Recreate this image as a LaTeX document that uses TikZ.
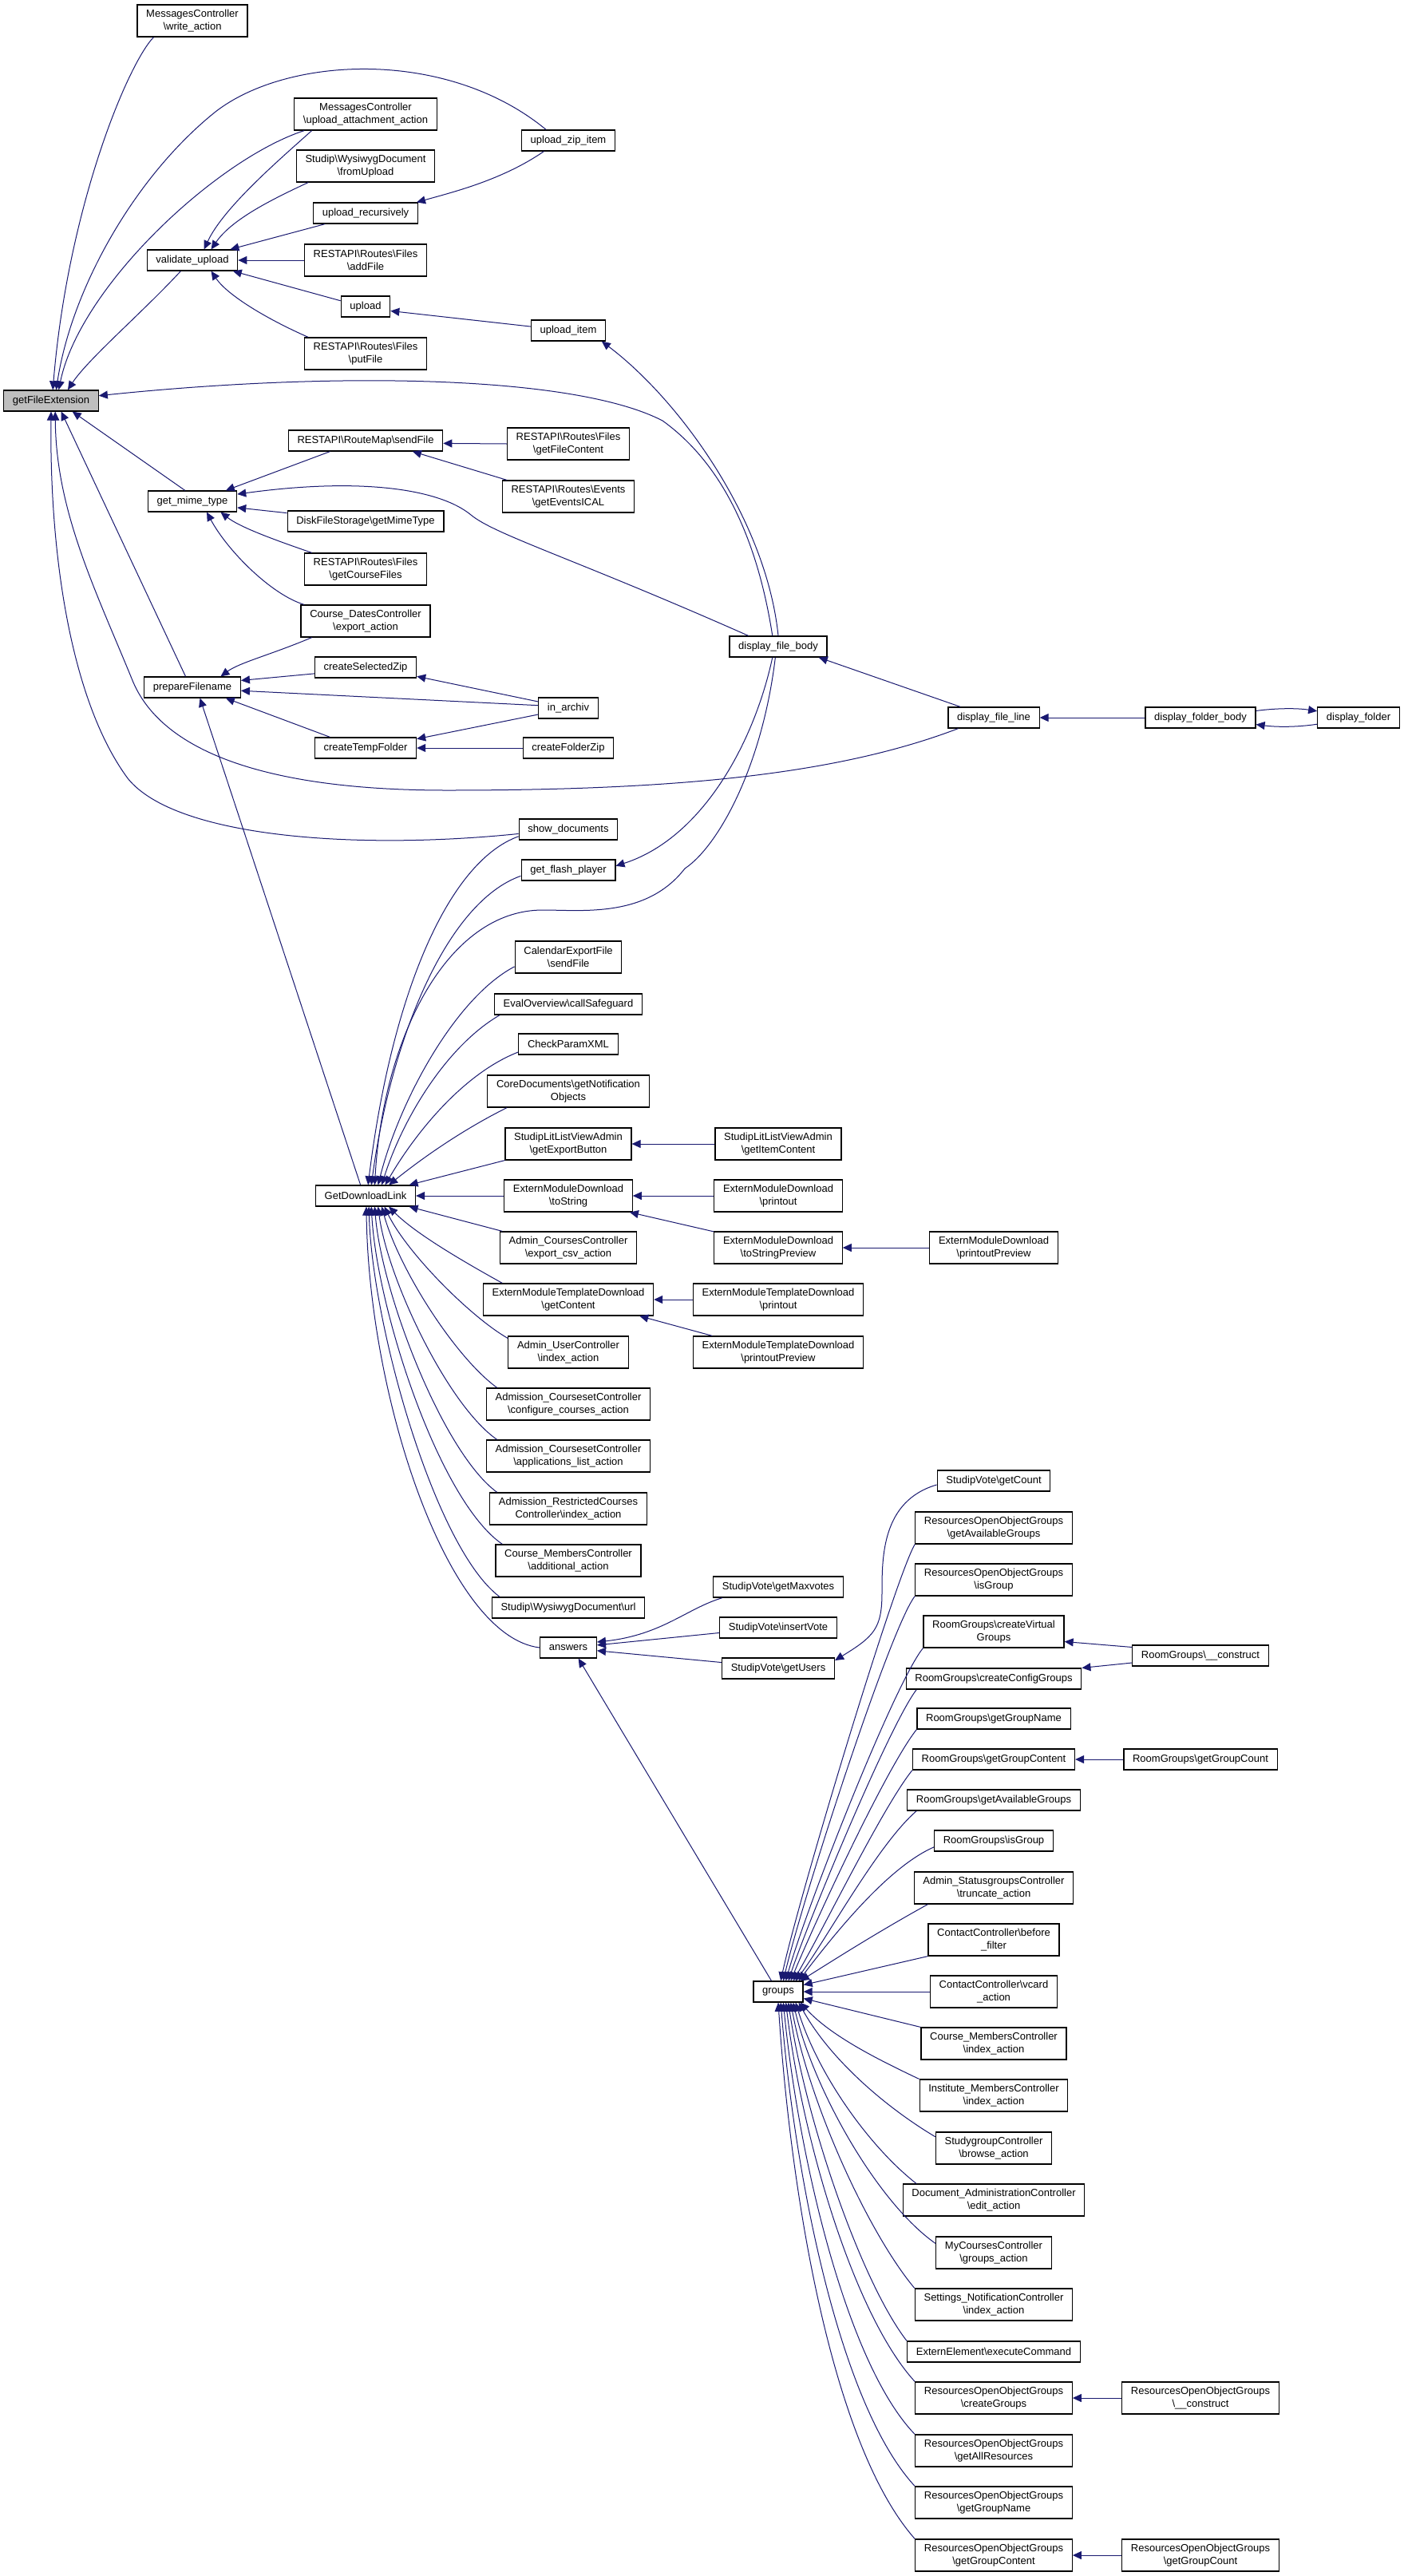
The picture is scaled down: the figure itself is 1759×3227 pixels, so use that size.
\documentclass[tikz,border=0pt]{standalone}
\usepackage{fontspec}
\setmainfont{Liberation Sans}
\usepackage{xcolor}
\usepackage{tikz}
\usetikzlibrary{
	arrows.meta,    % Per le punte delle frecce (Triangle)
}
\definecolor{blunotte}{HTML}{191970}
\definecolor{grigioradice}{HTML}{BFBFBF}
\newcommand{\bsl}{\textbackslash}

\begin{document}
\begin{tikzpicture}[x=0.5pt, y=-0.5pt,
	funz/.style={draw=black, line width=0.6pt, fill=white, font=\fontsize{6.5}{7.75}\selectfont,
		align=center, inner xsep=5.6pt, inner ysep=1pt, minimum height=13pt},
	funzdue/.style={funz, minimum height=20pt},
	radice/.style={funz, fill=grigioradice},
	chiamata/.style={draw=blunotte, line width=0.5pt, -{Triangle[length=5.5pt, width=5pt]}}]
	% Definizioni delle colonne (in pixel)
	\def\cA{64}
	\def\cB{241}
	\def\cC{458}
	\def\cD{712}
	\def\cE{975}
	\def\cF{1245}
	\def\cG{1504}
	\def\cH{1702}
	
	% --- Sfondo ---
	\path[fill=white] (0,0) rectangle (1759,3227);
	
	% --- Nodi ---
	% Colonna A
	\node[radice] (gfe) at (\cA,502) {getFileExtension};
	% Colonna B
	\node[funzdue] (wa) at (\cB,26) {MessagesController\\\bsl write\_action};
	\node[funz] (vu) at (\cB,326) {validate\_upload};
	\node[funz] (gmt) at (\cB,628) {get\_mime\_type};
	\node[funz] (pfn) at (\cB,861) {prepareFilename};
	% Colonna C
	\node[funzdue] (uaa) at (\cC,143) {MessagesController\\\bsl upload\_attachment\_action};
	\node[funzdue] (fu) at (\cC,208) {Studip\bsl WysiwygDocument\\\bsl fromUpload};
	\node[funz] (urec) at (\cC,267) {upload\_recursively};
	\node[funzdue] (af) at (\cC,326) {RESTAPI\bsl Routes\bsl Files\\\bsl addFile};
	\node[funz] (upl) at (\cC,384) {upload};
	\node[funzdue] (pf) at (\cC,443) {RESTAPI\bsl Routes\bsl Files\\\bsl putFile};
	\node[funz] (sf) at (\cC,552) {RESTAPI\bsl RouteMap\bsl sendFile};
	\node[funz] (dgm) at (\cC,653) {DiskFileStorage\bsl getMimeType};
	\node[funzdue] (gcf) at (\cC,713) {RESTAPI\bsl Routes\bsl Files\\\bsl getCourseFiles};
	\node[funzdue] (cde) at (\cC,778) {Course\_DatesController\\\bsl export\_action};
	\node[funz] (csz) at (\cC,836) {createSelectedZip};
	\node[funz] (ctf) at (\cC,937) {createTempFolder};
	\node[funz] (gdl) at (\cC,1498) {GetDownloadLink};
	% Colonna D
	\node[funz] (uzi) at (\cD,176) {upload\_zip\_item};
	\node[funz] (ui) at (\cD,414) {upload\_item};
	\node[funzdue] (gfc) at (\cD,556) {RESTAPI\bsl Routes\bsl Files\\\bsl getFileContent};
	\node[funzdue] (gei) at (\cD,622) {RESTAPI\bsl Routes\bsl Events\\\bsl getEventsICAL};
	\node[funz] (ia) at (\cD,887) {in\_archiv};
	\node[funz] (cfz) at (\cD,937) {createFolderZip};
	\node[funz] (sd) at (\cD,1039) {show\_documents};
	\node[funz] (gfp) at (\cD,1090) {get\_flash\_player};
	\node[funzdue] (cef) at (\cD,1199) {CalendarExportFile\\\bsl sendFile};
	\node[funz] (eos) at (\cD,1258) {EvalOverview\bsl callSafeguard};
	\node[funz] (cpx) at (\cD,1308) {CheckParamXML};
	\node[funzdue] (cdn) at (\cD,1367) {CoreDocuments\bsl getNotification\\Objects};
	\node[funzdue] (geb) at (\cD,1433) {StudipLitListViewAdmin\\\bsl getExportButton};
	\node[funzdue] (emts) at (\cD,1498) {ExternModuleDownload\\\bsl toString};
	\node[funzdue] (acc) at (\cD,1563) {Admin\_CoursesController\\\bsl export\_csv\_action};
	\node[funzdue] (mtgc) at (\cD,1628) {ExternModuleTemplateDownload\\\bsl getContent};
	\node[funzdue] (auc) at (\cD,1694) {Admin\_UserController\\\bsl index\_action};
	\node[funzdue] (acf) at (\cD,1759) {Admission\_CoursesetController\\\bsl configure\_courses\_action};
	\node[funzdue] (aal) at (\cD,1824) {Admission\_CoursesetController\\\bsl applications\_list\_action};
	\node[funzdue] (arc) at (\cD,1890) {Admission\_RestrictedCourses\\Controller\bsl index\_action};
	\node[funzdue] (cma) at (\cD,1955) {Course\_MembersController\\\bsl additional\_action};
	\node[funz] (wurl) at (\cD,2014) {Studip\bsl WysiwygDocument\bsl url};
	\node[funz] (ans) at (\cD,2064) {answers};
	% Colonna E
	\node[funz] (dfb) at (\cE,810) {display\_file\_body};
	\node[funzdue] (gic) at (\cE,1433) {StudipLitListViewAdmin\\\bsl getItemContent};
	\node[funzdue] (emp) at (\cE,1498) {ExternModuleDownload\\\bsl printout};
	\node[funzdue] (emtsp) at (\cE,1563) {ExternModuleDownload\\\bsl toStringPreview};
	\node[funzdue] (mtp) at (\cE,1628) {ExternModuleTemplateDownload\\\bsl printout};
	\node[funzdue] (mtpp) at (\cE,1694) {ExternModuleTemplateDownload\\\bsl printoutPreview};
	\node[funz] (gmv) at (\cE,1988) {StudipVote\bsl getMaxvotes};
	\node[funz] (iv) at (\cE,2039) {StudipVote\bsl insertVote};
	\node[funz] (gu) at (\cE,2090) {StudipVote\bsl getUsers};
	\node[funz] (grp) at (\cE,2495) {groups};
	% Colonna F
	\node[funz] (dfl) at (\cF,899) {display\_file\_line};
	\node[funzdue] (empp) at (\cF,1563) {ExternModuleDownload\\\bsl printoutPreview};
	\node[funz] (gc) at (\cF,1855) {StudipVote\bsl getCount};
	\node[funzdue] (roag) at (\cF,1914) {ResourcesOpenObjectGroups\\\bsl getAvailableGroups};
	\node[funzdue] (roig) at (\cF,1979) {ResourcesOpenObjectGroups\\\bsl isGroup};
	\node[funzdue] (rgcv) at (\cF,2044) {RoomGroups\bsl createVirtual\\Groups};
	\node[funz] (rgcc) at (\cF,2103) {RoomGroups\bsl createConfigGroups};
	\node[funz] (rggn) at (\cF,2153) {RoomGroups\bsl getGroupName};
	\node[funz] (rggc) at (\cF,2204) {RoomGroups\bsl getGroupContent};
	\node[funz] (rgag) at (\cF,2255) {RoomGroups\bsl getAvailableGroups};
	\node[funz] (rgig) at (\cF,2306) {RoomGroups\bsl isGroup};
	\node[funzdue] (asc) at (\cF,2365) {Admin\_StatusgroupsController\\\bsl truncate\_action};
	\node[funzdue] (ccbf) at (\cF,2430) {ContactController\bsl before\\\_filter};
	\node[funzdue] (ccv) at (\cF,2495) {ContactController\bsl vcard\\\_action};
	\node[funzdue] (cmi) at (\cF,2560) {Course\_MembersController\\\bsl index\_action};
	\node[funzdue] (imi) at (\cF,2625) {Institute\_MembersController\\\bsl index\_action};
	\node[funzdue] (sgb) at (\cF,2691) {StudygroupController\\\bsl browse\_action};
	\node[funzdue] (dae) at (\cF,2756) {Document\_AdministrationController\\\bsl edit\_action};
	\node[funzdue] (mcg) at (\cF,2822) {MyCoursesController\\\bsl groups\_action};
	\node[funzdue] (sni) at (\cF,2887) {Settings\_NotificationController\\\bsl index\_action};
	\node[funz] (eec) at (\cF,2946) {ExternElement\bsl executeCommand};
	\node[funzdue] (rocg) at (\cF,3004) {ResourcesOpenObjectGroups\\\bsl createGroups};
	\node[funzdue] (roar) at (\cF,3070) {ResourcesOpenObjectGroups\\\bsl getAllResources};
	\node[funzdue] (rogn) at (\cF,3135) {ResourcesOpenObjectGroups\\\bsl getGroupName};
	\node[funzdue] (rogc) at (\cF,3201) {ResourcesOpenObjectGroups\\\bsl getGroupContent};
	% Colonna G
	\node[funz] (dfob) at (\cG,899) {display\_folder\_body};
	\node[funz] (rgc) at (\cG,2074) {RoomGroups\bsl \_\_construct};
	\node[funz] (rggcnt) at (\cG,2204) {RoomGroups\bsl getGroupCount};
	\node[funzdue] (roc) at (\cG,3004) {ResourcesOpenObjectGroups\\\bsl \_\_construct};
	\node[funzdue] (rogcnt) at (\cG,3201) {ResourcesOpenObjectGroups\\\bsl getGroupCount};
	% Colonna H
	\node[funz] (dfo) at (\cH,899) {display\_folder};
	
	% --- Chiamate verso getFileExtension ---
	\draw[chiamata] (wa.203) .. controls (160,80) and (85,260) .. (gfe.81);
	\draw[chiamata] (uzi.154) .. controls (560,60) and (360,70) .. (270,140)
		.. controls (170,220) and (90,360) .. (gfe.65);
	\draw[chiamata] (uaa.195) .. controls (270,200) and (100,360) .. (gfe.55);
	\draw[chiamata] (vu.223) .. controls (180,390) and (110,450) .. (gfe.33);
	\draw[chiamata] (dfb.118) .. controls (945,650) and (890,570) .. (830,527)
		.. controls (720,470) and (420,465) .. (gfe.6);
	\draw[chiamata] (gmt.124) -- (gfe.-27);
	\draw[chiamata] (pfn.122) -- (gfe.-47);
	\draw[chiamata] (dfl.197) .. controls (1050,970) and (850,990) .. (560,990)
		.. controls (330,990) and (200,940) .. (165,850)
		.. controls (120,740) and (70,640) .. (gfe.-69);
	\draw[chiamata] (sd.185) .. controls (450,1065) and (220,1050) .. (160,975)
		.. controls (90,880) and (62,700) .. (gfe.-90);
	
	% --- validate_upload e upload ---
	\draw[chiamata] (uaa.197) .. controls (350,200) and (280,260) .. (vu.43);
	\draw[chiamata] (fu.196) .. controls (340,250) and (290,275) .. (vu.30);
	\draw[chiamata] (urec.195) -- (vu.16);
	\draw[chiamata] (af.west) -- (vu.east);
	\draw[chiamata] (upl.167) -- (vu.-15);
	\draw[chiamata] (pf.164) .. controls (335,400) and (285,370) .. (vu.-30);
	\draw[chiamata] (uzi.204) .. controls (630,225) and (570,240) .. (urec.12);
	\draw[chiamata] (ui.174) -- (upl.-10);
	\draw[chiamata] (dfb.north) .. controls (960,650) and (850,500) .. (ui.-18);
	
	% --- get_mime_type ---
	\draw[chiamata] (sf.197) -- (gmt.18);
	\draw[chiamata] (dfb.160) .. controls (720,700) and (620,670) .. (590,645)
		.. controls (550,612) and (450,598) .. (gmt.9);
	\draw[chiamata] (dgm.174) -- (gmt.-8);
	\draw[chiamata] (gcf.163) .. controls (340,675) and (300,660) .. (gmt.-21);
	\draw[chiamata] (cde.165) .. controls (340,745) and (285,690) .. (gmt.-37);
	\draw[chiamata] (gfc.west) -- (sf.-2);
	\draw[chiamata] (gei.165) -- (sf.-13);
	
	% --- prepareFilename ---
	\draw[chiamata] (cde.197) .. controls (340,820) and (300,830) .. (pfn.21);
	\draw[chiamata] (csz.187) -- (pfn.8);
	\draw[chiamata] (ia.175) -- (pfn.-4);
	\draw[chiamata] (ctf.163) -- (pfn.-18);
	\draw[chiamata] (gdl.115) -- (pfn.-55);
	\draw[chiamata] (ia.168) -- (csz.-10);
	\draw[chiamata] (ia.192) -- (ctf.10);
	\draw[chiamata] (cfz.west) -- (ctf.east);
	
	% --- display_* ---
	\draw[chiamata] (dfl.162) -- (dfb.-15);
	\draw[chiamata] (dfob.west) -- (dfl.east);
	\draw[chiamata] (dfob.7) .. controls (1600,887) and (1625,887) .. (dfo.171);
	\draw[chiamata] (dfo.189) .. controls (1625,911) and (1600,911) .. (dfob.-7);
	\draw[chiamata] (dfb.242) .. controls (945,930) and (880,1050) .. (gfp.5);
	
	% --- GetDownloadLink (sopra) ---
	\draw[chiamata] (dfb.255) .. controls (955,960) and (900,1060) .. (858,1088)
		.. controls (810,1150) and (730,1140) .. (680,1140)
		.. controls (560,1140) and (480,1300) .. (gdl.50);
	\draw[chiamata] (sd.188) .. controls (560,1080) and (490,1250) .. (gdl.77);
	\draw[chiamata] (gfp.187) .. controls (560,1130) and (490,1300) .. (gdl.62);
	\draw[chiamata] (cef.190) .. controls (570,1250) and (500,1380) .. (gdl.41);
	\draw[chiamata] (eos.189) .. controls (560,1310) and (505,1400) .. (gdl.34);
	\draw[chiamata] (cpx.189) .. controls (580,1345) and (520,1420) .. (gdl.29);
	\draw[chiamata] (cdn.195) .. controls (580,1415) and (530,1450) .. (gdl.25);
	\draw[chiamata] (geb.south west) -- (gdl.14);
	\draw[chiamata] (emts.west) -- (gdl.east);
	% GetDownloadLink (sotto)
	\draw[chiamata] (acc.166) -- (gdl.-14);
	\draw[chiamata] (mtgc.166) .. controls (580,1580) and (520,1545) .. (gdl.-25);
	\draw[chiamata] (auc.167) .. controls (590,1650) and (510,1570) .. (gdl.-30);
	\draw[chiamata] (acf.167) .. controls (570,1700) and (500,1590) .. (gdl.-34);
	\draw[chiamata] (aal.167) .. controls (560,1760) and (485,1600) .. (gdl.-41);
	\draw[chiamata] (arc.167) .. controls (555,1820) and (478,1620) .. (gdl.-50);
	\draw[chiamata] (cma.166) .. controls (550,1880) and (472,1640) .. (gdl.-62);
	\draw[chiamata] (wurl.171) .. controls (545,1940) and (466,1660) .. (gdl.-73);
	\draw[chiamata] (ans.west) .. controls (560,2050) and (462,1750) .. (gdl.-86);
	
	% --- Extern* e StudipLit* ---
	\draw[chiamata] (gic.west) -- (geb.east);
	\draw[chiamata] (emp.west) -- (emts.east);
	\draw[chiamata] (emtsp.166) -- (emts.-15);
	\draw[chiamata] (empp.west) -- (emtsp.east);
	\draw[chiamata] (mtp.west) -- (mtgc.east);
	\draw[chiamata] (mtpp.166) -- (mtgc.-13);
	
	% --- answers ---
	\draw[chiamata] (gmv.191) .. controls (860,2015) and (830,2048) .. (ans.11);
	\draw[chiamata] (iv.185) -- (ans.5);
	\draw[chiamata] (gu.174) -- (ans.-6);
	\draw[chiamata] (gc.184) .. controls (1105,1880) and (1105,1950) .. (1105,1995)
		.. controls (1105,2040) and (1095,2050) .. (gu.8);
	\draw[chiamata] (grp.122) -- (ans.-47);
	
	% --- groups (sopra) ---
	\draw[chiamata] (roag.south west) .. controls (1120,1980) and (1000,2380) .. (grp.77);
	\draw[chiamata] (roig.south west) .. controls (1115,2040) and (1005,2380) .. (grp.65);
	\draw[chiamata] (rgcv.south west) .. controls (1120,2110) and (1010,2390) .. (grp.55);
	\draw[chiamata] (rgcc.188) .. controls (1115,2160) and (1015,2400) .. (grp.47);
	\draw[chiamata] (rggn.south west) .. controls (1110,2215) and (1020,2410) .. (grp.41);
	\draw[chiamata] (rggc.south west) .. controls (1105,2265) and (1030,2420) .. (grp.36);
	\draw[chiamata] (rgag.188) .. controls (1100,2310) and (1035,2430) .. (grp.32);
	\draw[chiamata] (rgig.186) .. controls (1110,2340) and (1040,2430) .. (grp.28);
	\draw[chiamata] (asc.194) .. controls (1100,2420) and (1045,2455) .. (grp.26);
	\draw[chiamata] (ccbf.south west) -- (grp.15);
	\draw[chiamata] (ccv.west) -- (grp.east);
	% groups (sotto)
	\draw[chiamata] (cmi.north west) -- (grp.-15);
	\draw[chiamata] (imi.north west) .. controls (1100,2580) and (1040,2550) .. (grp.-26);
	\draw[chiamata] (sgb.169) .. controls (1110,2640) and (1040,2580) .. (grp.-28);
	\draw[chiamata] (dae.168) .. controls (1090,2690) and (1025,2600) .. (grp.-32);
	\draw[chiamata] (mcg.171) .. controls (1100,2760) and (1020,2620) .. (grp.-36);
	\draw[chiamata] (sni.north west) .. controls (1090,2800) and (1015,2640) .. (grp.-41);
	\draw[chiamata] (eec.north west) .. controls (1080,2860) and (1010,2660) .. (grp.-47);
	\draw[chiamata] (rocg.north west) .. controls (1070,2900) and (1005,2680) .. (grp.-55);
	\draw[chiamata] (roar.north west) .. controls (1060,2960) and (1000,2700) .. (grp.-65);
	\draw[chiamata] (rogn.north west) .. controls (1050,3010) and (995,2720) .. (grp.-77);
	\draw[chiamata] (rogc.north west) .. controls (1040,3060) and (990,2740) .. (grp.-90);
	
	% --- Costruttori e contatori ---
	\draw[chiamata] (rgc.173) -- (rgcv.-8);
	\draw[chiamata] (rgc.186) -- (rgcc.north east);
	\draw[chiamata] (rggcnt.west) -- (rggc.east);
	\draw[chiamata] (roc.west) -- (rocg.east);
	\draw[chiamata] (rogcnt.west) -- (rogc.east);
\end{tikzpicture}
\end{document}
